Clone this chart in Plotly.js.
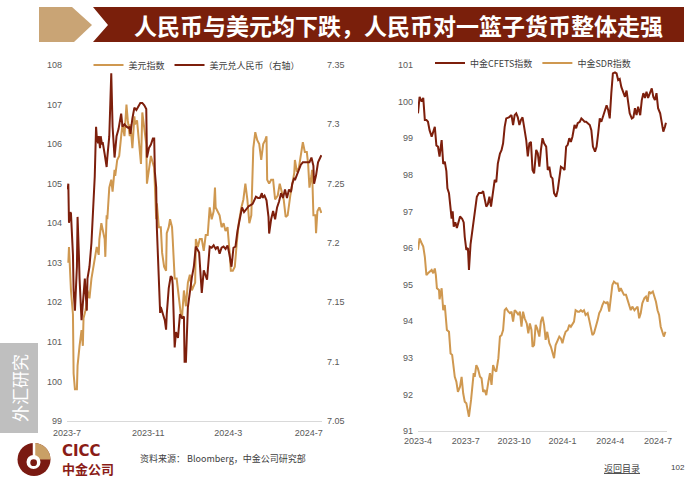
<!DOCTYPE html>
<html>
<head>
<meta charset="utf-8">
<script src="https://cdn.plot.ly/plotly-3.0.1.min.js"></script>
<style>
  html, body { margin: 0; padding: 0; background: #fff; }
  #chart { width: 700px; height: 490px; }
</style>
</head>
<body>
<div id="chart"></div>
<script>
/* LEFT: 美元指数 (left axis) and 美元兑人民币 (right axis) */
var usdDates = [
  '2023-07-03','2023-07-04','2023-07-07','2023-07-10','2023-07-11','2023-07-13','2023-07-16','2023-07-17','2023-07-20','2023-07-23',
  '2023-07-25','2023-07-26','2023-07-29','2023-07-31','2023-08-01','2023-08-04','2023-08-07','2023-08-10','2023-08-12','2023-08-15',
  '2023-08-18','2023-08-19','2023-08-22','2023-08-25','2023-08-27','2023-08-28','2023-08-30','2023-08-31','2023-09-03','2023-09-06',
  '2023-09-08','2023-09-11','2023-09-12','2023-09-15','2023-09-18','2023-09-21','2023-09-23','2023-09-26','2023-09-29','2023-10-01',
  '2023-10-04','2023-10-05','2023-10-08','2023-10-11','2023-10-12','2023-10-15','2023-10-18','2023-10-21','2023-10-23','2023-10-26',
  '2023-10-29','2023-10-30','2023-11-02','2023-11-05','2023-11-10','2023-11-13','2023-11-14','2023-11-17','2023-11-20','2023-11-22',
  '2023-11-25','2023-11-28','2023-11-29','2023-12-02','2023-12-04','2023-12-07','2023-12-08','2023-12-11','2023-12-14','2023-12-17',
  '2023-12-20','2023-12-22','2023-12-25','2023-12-28','2023-12-31','2024-01-03','2024-01-06','2024-01-11','2024-01-12','2024-01-15',
  '2024-01-18','2024-01-21','2024-01-24','2024-01-27','2024-01-30','2024-02-02','2024-02-05','2024-02-08','2024-02-10','2024-02-11',
  '2024-02-14','2024-02-17','2024-02-20','2024-02-23','2024-02-26','2024-02-29','2024-03-03','2024-03-05','2024-03-08','2024-03-11',
  '2024-03-14','2024-03-17','2024-03-21','2024-03-24','2024-03-27','2024-03-30','2024-04-02','2024-04-05','2024-04-08','2024-04-11',
  '2024-04-14','2024-04-17','2024-04-20','2024-04-23','2024-04-26','2024-04-28','2024-04-29','2024-05-02','2024-05-05','2024-05-08',
  '2024-05-11','2024-05-15','2024-05-18','2024-05-21','2024-05-24','2024-05-27','2024-05-30','2024-06-03','2024-06-06','2024-06-09',
  '2024-06-10','2024-06-13','2024-06-16','2024-06-19','2024-06-22','2024-06-25','2024-06-28','2024-06-30','2024-07-02','2024-07-05',
  '2024-07-06','2024-07-08','2024-07-11','2024-07-12','2024-07-14','2024-07-17','2024-07-20'
];
var usdIndex = [
  103.0,103.4,102.3,101.7,100.2,99.8,99.8,100.4,100.9,101.3,
  100.9,101.6,101.8,102.0,102.3,102.1,102.6,102.9,103.1,103.4,
  103.2,103.6,104.0,103.8,103.6,103.15,104.2,104.1,104.9,105.1,
  104.8,105.35,105.2,105.6,105.7,106.2,106.5,106.2,107.0,106.6,
  106.2,106.5,105.9,106.7,106.5,106.6,106.1,105.5,106.8,106.4,
  106.0,105.0,105.3,105.7,105.4,104.1,104.5,103.9,103.9,103.25,
  102.9,102.8,103.75,103.9,104.1,103.9,103.6,102.6,102.6,102.14,
  101.74,101.6,102.3,101.9,102.5,102.7,102.3,102.5,103.6,103.4,
  103.6,103.6,103.3,103.7,103.7,104.4,104.1,104.3,104.9,104.4,
  104.3,104.2,103.9,104.0,103.8,103.9,103.3,102.8,102.8,102.9,
  103.5,104.0,104.4,104.6,105.0,104.6,104.0,104.2,105.9,106.3,
  106.1,106.0,105.6,106.0,106.1,106.2,105.1,105.0,105.1,105.1,
  104.6,104.7,105.0,104.8,104.6,104.16,104.2,104.7,105.0,105.27,
  105.6,105.3,105.4,105.7,106.05,105.8,105.8,105.5,104.9,105.2,
  105.35,104.2,104.2,103.75,104.3,104.4,104.26
];

var cnyDates = [
  '2023-07-02','2023-07-03','2023-07-04','2023-07-06','2023-07-07','2023-07-09','2023-07-10','2023-07-11','2023-07-13','2023-07-16',
  '2023-07-17','2023-07-19','2023-07-20','2023-07-23','2023-07-25','2023-07-28','2023-07-29','2023-07-31','2023-08-01','2023-08-04',
  '2023-08-07','2023-08-09','2023-08-10','2023-08-12','2023-08-14','2023-08-15','2023-08-17','2023-08-18','2023-08-20','2023-08-21',
  '2023-08-23','2023-08-24','2023-08-27','2023-08-30','2023-08-31','2023-09-03','2023-09-06','2023-09-08','2023-09-11','2023-09-14',
  '2023-09-17','2023-09-20','2023-09-21','2023-09-23','2023-09-26','2023-09-29','2023-10-02','2023-10-04','2023-10-05','2023-10-08',
  '2023-10-11','2023-10-14','2023-10-17','2023-10-20','2023-10-23','2023-10-26','2023-10-29','2023-10-30','2023-11-02','2023-11-05',
  '2023-11-08','2023-11-10','2023-11-11','2023-11-13','2023-11-14','2023-11-17','2023-11-19','2023-11-20','2023-11-23','2023-11-26',
  '2023-11-28','2023-11-29','2023-12-02','2023-12-05','2023-12-07','2023-12-08','2023-12-11','2023-12-13','2023-12-16','2023-12-19',
  '2023-12-22','2023-12-25','2023-12-26','2023-12-28','2023-12-31','2024-01-03','2024-01-06','2024-01-09','2024-01-12','2024-01-17',
  '2024-01-21','2024-01-24','2024-01-29','2024-02-02','2024-02-05','2024-02-08','2024-02-11','2024-02-14','2024-02-17','2024-02-20',
  '2024-02-23','2024-02-26','2024-02-29','2024-03-03','2024-03-06','2024-03-09','2024-03-12','2024-03-15','2024-03-19','2024-03-22',
  '2024-03-25','2024-03-28','2024-04-01','2024-04-04','2024-04-07','2024-04-12','2024-04-15','2024-04-18','2024-04-21','2024-04-22',
  '2024-04-25','2024-04-28','2024-05-01','2024-05-02','2024-05-05','2024-05-08','2024-05-11','2024-05-14','2024-05-17','2024-05-20',
  '2024-05-23','2024-05-26','2024-05-29','2024-06-01','2024-06-04','2024-06-06','2024-06-09','2024-06-10','2024-06-13','2024-06-16',
  '2024-06-19','2024-06-22','2024-06-25','2024-06-28','2024-07-02','2024-07-05','2024-07-08','2024-07-09','2024-07-12','2024-07-15',
  '2024-07-18','2024-07-20'
];
var usdCny = [
  7.245,7.250,7.217,7.226,7.225,7.202,7.190,7.160,7.143,7.180,
  7.222,7.190,7.170,7.135,7.150,7.170,7.160,7.143,7.170,7.180,
  7.200,7.220,7.240,7.256,7.298,7.290,7.284,7.290,7.280,7.290,
  7.283,7.285,7.275,7.264,7.272,7.290,7.343,7.298,7.272,7.290,
  7.296,7.306,7.309,7.298,7.300,7.298,7.297,7.298,7.292,7.305,
  7.314,7.312,7.315,7.318,7.318,7.316,7.313,7.272,7.280,7.283,
  7.288,7.288,7.260,7.247,7.213,7.170,7.141,7.146,7.140,7.135,
  7.127,7.140,7.162,7.172,7.171,7.165,7.112,7.125,7.120,7.140,
  7.137,7.138,7.100,7.100,7.146,7.160,7.171,7.180,7.197,7.192,
  7.158,7.177,7.169,7.197,7.196,7.198,7.195,7.197,7.191,7.196,
  7.197,7.195,7.198,7.190,7.180,7.196,7.197,7.210,7.222,7.230,
  7.226,7.228,7.231,7.232,7.233,7.239,7.238,7.238,7.242,7.238,
  7.240,7.236,7.222,7.208,7.220,7.227,7.220,7.230,7.235,7.242,
  7.238,7.245,7.238,7.245,7.243,7.250,7.255,7.253,7.258,7.262,
  7.266,7.268,7.268,7.268,7.268,7.272,7.265,7.250,7.257,7.268,
  7.272,7.274
];

/* RIGHT: 中金CFETS指数 and 中金SDR指数 */
var cfetsDates = [
  '2023-04-01','2023-04-04','2023-04-08','2023-04-11','2023-04-14','2023-04-17','2023-04-20','2023-04-23','2023-04-27','2023-04-30',
  '2023-05-03','2023-05-06','2023-05-09','2023-05-12','2023-05-16','2023-05-19','2023-05-22','2023-05-25','2023-05-27','2023-05-30',
  '2023-06-02','2023-06-04','2023-06-06','2023-06-08','2023-06-11','2023-06-14','2023-06-17','2023-06-20','2023-06-24','2023-06-27',
  '2023-06-29','2023-07-02','2023-07-05','2023-07-07','2023-07-10','2023-07-14','2023-07-17','2023-07-20','2023-07-22','2023-07-26',
  '2023-07-31','2023-08-03','2023-08-06','2023-08-09','2023-08-12','2023-08-15','2023-08-18','2023-08-21','2023-08-25','2023-08-28',
  '2023-08-31','2023-09-04','2023-09-07','2023-09-10','2023-09-13','2023-09-16','2023-09-21','2023-09-26','2023-09-29','2023-10-02',
  '2023-10-05','2023-10-08','2023-10-11','2023-10-14','2023-10-17','2023-10-20','2023-10-24','2023-10-27','2023-10-30','2023-11-02',
  '2023-11-05','2023-11-08','2023-11-12','2023-11-15','2023-11-18','2023-11-21','2023-11-24','2023-11-27','2023-12-01','2023-12-04',
  '2023-12-07','2023-12-10','2023-12-13','2023-12-16','2023-12-20','2023-12-23','2023-12-26','2023-12-29','2024-01-02','2024-01-05',
  '2024-01-08','2024-01-11','2024-01-14','2024-01-17','2024-01-20','2024-01-24','2024-01-27','2024-01-30','2024-02-03','2024-02-06',
  '2024-02-09','2024-02-12','2024-02-15','2024-02-18','2024-02-22','2024-02-25','2024-02-28','2024-03-03','2024-03-06','2024-03-09',
  '2024-03-12','2024-03-15','2024-03-18','2024-03-22','2024-03-25','2024-03-28','2024-03-31','2024-04-03','2024-04-06','2024-04-10',
  '2024-04-13','2024-04-16','2024-04-19','2024-04-22','2024-04-25','2024-04-29','2024-05-02','2024-05-05','2024-05-08','2024-05-12',
  '2024-05-15','2024-05-18','2024-05-21','2024-05-24','2024-05-28','2024-05-31','2024-06-03','2024-06-06','2024-06-09','2024-06-12',
  '2024-06-16','2024-06-19','2024-06-22','2024-06-25','2024-06-28','2024-07-01','2024-07-05','2024-07-08','2024-07-11','2024-07-14',
  '2024-07-16'
];
var cfetsIndex = [
  99.68,100.13,100.0,100.1,99.5,99.5,99.45,99.22,99.04,99.2,
  99.31,98.8,98.77,98.5,98.95,98.3,98.36,98.1,97.63,97.5,
  96.95,96.8,97.0,96.58,96.7,96.55,96.7,96.86,96.8,96.7,
  96.3,95.95,96.0,95.4,96.1,96.55,96.8,97.1,97.4,97.5,
  97.5,97.55,97.37,97.13,97.2,97.4,97.13,97.4,97.86,97.8,
  98.31,98.58,98.67,98.86,99.31,99.54,99.57,99.63,99.36,99.63,
  99.68,99.57,99.36,99.5,99.57,99.31,98.95,98.5,98.86,98.9,
  98.13,98.04,98.68,98.59,98.22,98.68,99.0,98.86,98.77,98.13,
  98.22,97.95,97.9,97.5,97.4,97.58,97.95,98.22,98.18,98.13,
  98.77,98.82,99.0,98.9,99.04,99.36,99.27,99.41,99.45,99.54,
  99.5,99.45,99.45,99.41,99.36,99.22,98.77,98.63,98.77,99.13,
  99.54,99.45,99.59,99.82,99.9,99.77,99.54,100.23,100.77,100.8,
  100.77,100.59,100.62,100.4,100.3,100.13,100.3,100.0,99.68,99.54,
  99.57,99.82,99.63,99.86,99.63,100.04,100.23,100.1,100.27,100.1,
  100.27,100.36,100.13,100.04,100.23,99.82,99.68,99.36,99.18,99.31,
  99.42
];

var sdrDates = [
  '2023-04-01','2023-04-04','2023-04-08','2023-04-11','2023-04-14','2023-04-17','2023-04-20','2023-04-23','2023-04-27','2023-04-30',
  '2023-05-03','2023-05-05','2023-05-07','2023-05-11','2023-05-12','2023-05-16','2023-05-19','2023-05-22','2023-05-24','2023-05-26',
  '2023-05-30','2023-06-02','2023-06-05','2023-06-07','2023-06-10','2023-06-13','2023-06-16','2023-06-20','2023-06-23','2023-06-26',
  '2023-06-29','2023-07-02','2023-07-05','2023-07-07','2023-07-11','2023-07-14','2023-07-16','2023-07-18','2023-07-21','2023-07-24',
  '2023-07-28','2023-07-31','2023-08-03','2023-08-06','2023-08-09','2023-08-13','2023-08-16','2023-08-19','2023-08-22','2023-08-25',
  '2023-08-28','2023-09-01','2023-09-04','2023-09-07','2023-09-10','2023-09-13','2023-09-16','2023-09-20','2023-09-23','2023-09-26',
  '2023-09-29','2023-10-02','2023-10-05','2023-10-09','2023-10-12','2023-10-15','2023-10-18','2023-10-21','2023-10-25','2023-10-28',
  '2023-10-31','2023-11-03','2023-11-05','2023-11-08','2023-11-11','2023-11-14','2023-11-18','2023-11-21','2023-11-24','2023-11-27',
  '2023-11-30','2023-12-03','2023-12-07','2023-12-10','2023-12-13','2023-12-16','2023-12-19','2023-12-23','2023-12-26','2023-12-29',
  '2024-01-01','2024-01-04','2024-01-07','2024-01-11','2024-01-14','2024-01-17','2024-01-20','2024-01-23','2024-01-26','2024-01-30',
  '2024-02-02','2024-02-05','2024-02-08','2024-02-11','2024-02-14','2024-02-18','2024-02-21','2024-02-24','2024-02-27','2024-03-01',
  '2024-03-05','2024-03-08','2024-03-11','2024-03-14','2024-03-17','2024-03-20','2024-03-24','2024-03-27','2024-03-30','2024-04-02',
  '2024-04-05','2024-04-08','2024-04-12','2024-04-15','2024-04-18','2024-04-21','2024-04-24','2024-04-27','2024-05-01','2024-05-04',
  '2024-05-07','2024-05-10','2024-05-13','2024-05-17','2024-05-20','2024-05-23','2024-05-26','2024-05-29','2024-06-01','2024-06-05',
  '2024-06-08','2024-06-11','2024-06-14','2024-06-17','2024-06-21','2024-06-24','2024-06-27','2024-06-30','2024-07-03','2024-07-06',
  '2024-07-09','2024-07-12','2024-07-15'
];
var sdrIndex = [
  95.95,96.26,96.13,96.04,95.76,95.26,95.31,95.35,95.4,95.31,
  95.44,95.26,94.9,94.85,94.6,94.9,94.3,94.44,94.03,93.76,
  93.71,93.12,93.08,92.76,92.48,92.35,92.07,92.21,92.48,92.03,
  91.8,91.76,91.53,91.39,91.85,92.21,92.58,92.48,92.8,92.71,
  92.48,92.44,92.07,92.12,91.98,92.35,92.58,92.26,92.8,92.67,
  92.62,92.99,93.58,93.62,93.76,94.3,94.35,94.26,94.22,94.26,
  93.99,94.3,94.26,94.17,94.26,93.85,94.26,94.08,93.94,93.67,
  93.94,93.76,93.3,93.35,93.9,93.8,93.58,93.99,94.12,93.9,
  93.49,93.71,93.4,93.3,93.17,92.99,93.35,93.49,93.58,93.53,
  93.4,93.58,93.71,93.76,93.9,93.85,93.94,93.99,94.3,94.26,
  94.26,94.3,94.26,94.3,94.17,94.22,94.03,93.85,93.62,93.67,
  93.85,94.03,94.22,94.3,94.44,94.53,94.49,94.53,94.26,94.67,
  94.99,95.08,95.03,95.03,94.81,94.9,94.81,94.72,94.72,94.58,
  94.49,94.3,94.4,94.3,94.35,94.4,94.08,94.22,94.49,94.63,
  94.67,94.53,94.81,94.76,94.81,94.67,94.53,94.3,94.17,93.85,
  93.71,93.58,93.71
];

var tan = '#CF9850';
var darkRed = '#7D1F0C';
var axisGray = '#595959';
var numFont = 'Arial, "Liberation Sans", sans-serif';
var cjkFont = '"Noto Sans CJK SC", "Noto Sans", sans-serif';

// page is 700x490 with zero margins, so paper coordinates map straight to pixels
function px(x) { return x / 700; }
function py(y) { return 1 - y / 490; }
function poly(pts) {
  return 'M' + pts.map(function (p) { return px(p[0]) + ',' + py(p[1]); }).join('L') + 'Z';
}

var data = [
  { x: usdDates, y: usdIndex, name: '美元指数', type: 'scatter', mode: 'lines',
    line: { color: tan, width: 2 }, xaxis: 'x', yaxis: 'y', legend: 'legend' },
  { x: cnyDates, y: usdCny, name: '美元兑人民币（右轴）', type: 'scatter', mode: 'lines',
    line: { color: darkRed, width: 2 }, xaxis: 'x', yaxis: 'y2', legend: 'legend' },
  { x: cfetsDates, y: cfetsIndex, name: '中金CFETS指数', type: 'scatter', mode: 'lines',
    line: { color: darkRed, width: 2 }, xaxis: 'x2', yaxis: 'y3', legend: 'legend2' },
  { x: sdrDates, y: sdrIndex, name: '中金SDR指数', type: 'scatter', mode: 'lines',
    line: { color: tan, width: 2 }, xaxis: 'x2', yaxis: 'y3', legend: 'legend2' }
];

var tickFont = { family: numFont, size: 9, color: axisGray };

var layout = {
  width: 700,
  height: 490,
  margin: { l: 0, r: 0, t: 0, b: 0 },
  paper_bgcolor: '#ffffff',
  plot_bgcolor: 'rgba(0,0,0,0)',
  xaxis: {
    type: 'date', domain: [px(67), px(322)], range: ['2023-07-01', '2024-07-21'],
    tick0: '2023-07-01', dtick: 'M4', tickformat: '%Y-%-m',
    showgrid: false, zeroline: false, showline: true, linecolor: '#d9d9d9', linewidth: 1,
    ticks: '', tickfont: tickFont, ticklabelstandoff: 3, anchor: 'y'
  },
  yaxis: {
    domain: [py(421), py(65)], range: [99, 108], dtick: 1,
    showgrid: false, zeroline: false, showline: false, ticks: '',
    tickfont: tickFont, ticklabelstandoff: 4, anchor: 'x'
  },
  yaxis2: {
    overlaying: 'y', side: 'right', range: [7.05, 7.35], dtick: 0.05,
    showgrid: false, zeroline: false, showline: false, ticks: '',
    tickfont: tickFont, ticklabelstandoff: 4, anchor: 'x'
  },
  xaxis2: {
    type: 'date', domain: [px(418), px(667)], range: ['2023-04-01', '2024-07-18'],
    tick0: '2023-04-01', dtick: 'M3', tickformat: '%Y-%-m',
    showgrid: false, zeroline: false, showline: true, linecolor: '#d9d9d9', linewidth: 1,
    ticks: '', tickfont: tickFont, ticklabelstandoff: 1, anchor: 'y3'
  },
  yaxis3: {
    domain: [py(431), py(65)], range: [91, 101], dtick: 1,
    showgrid: false, zeroline: false, showline: false, ticks: '',
    tickfont: tickFont, ticklabelstandoff: 4, anchor: 'x2'
  },
  legend: {
    orientation: 'h', x: px(197), xanchor: 'center', y: py(65), yanchor: 'middle',
    font: { family: cjkFont, size: 9, color: '#404040' }, bgcolor: 'rgba(0,0,0,0)'
  },
  legend2: {
    orientation: 'h', x: px(533), xanchor: 'center', y: py(63), yanchor: 'middle',
    font: { family: cjkFont, size: 9, color: '#404040' }, bgcolor: 'rgba(0,0,0,0)'
  },
  shapes: [
    // header
    { type: 'path', xref: 'paper', yref: 'paper', layer: 'below', line: { width: 0 },
      fillcolor: '#C9A475', path: poly([[39, 7], [72, 7], [92, 25], [74, 42], [39, 42]]) },
    { type: 'path', xref: 'paper', yref: 'paper', layer: 'below', line: { width: 0 },
      fillcolor: '#7A1F0B', path: poly([[93, 7], [684, 7], [684, 42], [93, 42], [108, 25]]) },
    // side tab
    { type: 'rect', xref: 'paper', yref: 'paper', layer: 'below', line: { width: 0 },
      fillcolor: '#BFBFBF', x0: px(0), x1: px(38), y0: py(433), y1: py(343) },
    // logo
    { type: 'circle', xref: 'paper', yref: 'paper', line: { width: 0 }, fillcolor: '#7A1A12',
      x0: px(17.5), x1: px(50.5), y0: py(476), y1: py(443) },
    { type: 'path', xref: 'paper', yref: 'paper', line: { width: 0 }, fillcolor: '#C9A066',
      path: 'M' + px(34) + ',' + py(459.5) + 'L' + px(34) + ',' + py(443) +
            'C' + px(43.1) + ',' + py(443) + ' ' + px(50.5) + ',' + py(450.4) + ' ' + px(50.5) + ',' + py(459.5) + 'Z' },
    { type: 'circle', xref: 'paper', yref: 'paper', line: { width: 0 }, fillcolor: '#ffffff',
      x0: px(26.5), x1: px(40.5), y0: py(469), y1: py(455) },
    { type: 'circle', xref: 'paper', yref: 'paper', line: { width: 0 }, fillcolor: '#7A1A12',
      x0: px(30.3), x1: px(37), y0: py(466), y1: py(459.3) },
    { type: 'line', xref: 'paper', yref: 'paper', line: { width: 2.5, color: '#ffffff' },
      x0: px(34), x1: px(34), y0: py(443), y1: py(457) }
  ],
  annotations: [
    { text: '人民币与美元均下跌，人民币对一篮子货币整体走强', xref: 'paper', yref: 'paper',
      x: px(398), y: py(25), xanchor: 'center', yanchor: 'middle', showarrow: false,
      font: { family: cjkFont, size: 23, color: '#ffffff', weight: 'bold' } },
    { text: '外汇研究', xref: 'paper', yref: 'paper', x: px(19), y: py(388),
      xanchor: 'center', yanchor: 'middle', showarrow: false, textangle: -90,
      font: { family: cjkFont, size: 17, color: '#ffffff' } },
    { text: '<b>CICC</b>', xref: 'paper', yref: 'paper', x: px(61), y: py(450.5),
      xanchor: 'left', yanchor: 'middle', showarrow: false, borderpad: 0,
      font: { family: '"DejaVu Sans", sans-serif', size: 15, color: '#8A1C17' } },
    { text: '<b>中金公司</b>', xref: 'paper', yref: 'paper', x: px(61), y: py(468.5),
      xanchor: 'left', yanchor: 'middle', showarrow: false, borderpad: 0,
      font: { family: cjkFont, size: 13, color: '#8A1C17' } },
    { text: '资料来源： Bloomberg，中金公司研究部', xref: 'paper', yref: 'paper', x: px(138), y: py(458),
      xanchor: 'left', yanchor: 'middle', showarrow: false,
      font: { family: cjkFont, size: 9, color: '#404040' } },
    { text: '<u>返回目录</u>', xref: 'paper', yref: 'paper', x: px(621.5), y: py(468),
      xanchor: 'center', yanchor: 'middle', showarrow: false,
      font: { family: cjkFont, size: 9, color: '#404040' } },
    { text: '102', xref: 'paper', yref: 'paper', x: px(678), y: py(467),
      xanchor: 'center', yanchor: 'middle', showarrow: false,
      font: { family: numFont, size: 8, color: '#404040' } }
  ]
};

Plotly.newPlot('chart', data, layout, { staticPlot: true, displayModeBar: false });
</script>
</body>
</html>
